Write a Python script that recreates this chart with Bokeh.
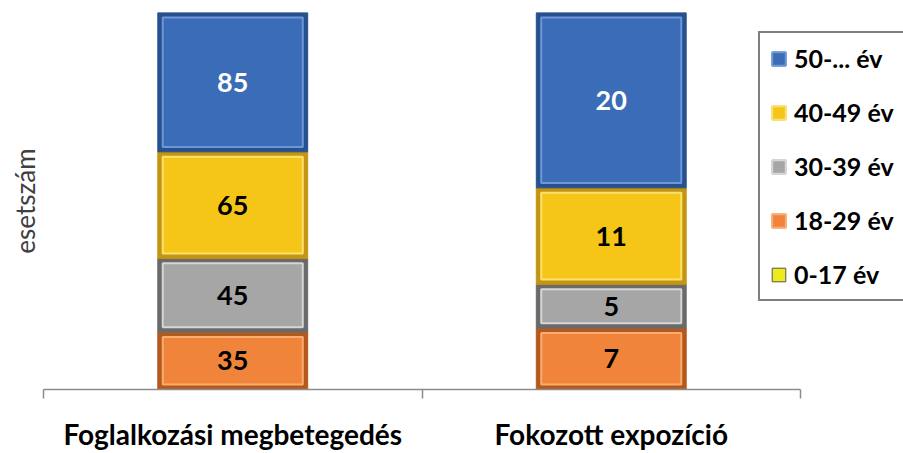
import numpy as np
from bokeh.plotting import figure
from bokeh.models import (ColumnDataSource, Legend, LegendItem, FixedTicker, Range1d)
from bokeh.core.properties import value
from bokeh.embed import file_html
from bokeh.resources import INLINE

# ---- data ----
categories = ["Foglalkozási megbetegedés", "Fokozott expozíció"]
age_groups = ["0-17 év", "18-29 év", "30-39 év", "40-49 év", "50-... év"]
v_0_17 = [0, 0]
v_18_29 = [35, 7]
v_30_39 = [45, 5]
v_40_49 = [65, 11]
v_50_plus = [85, 20]
y_label = "esetszám"

series = [v_0_17, v_18_29, v_30_39, v_40_49, v_50_plus]
main_colors = ["#ecec1c", "#f0843a", "#a6a6a6", "#f5c518", "#3b6cb7"]
dark_colors = ["#555555", "#b4581c", "#6a6a6a", "#c39510", "#27508f"]
light_colors = ["#ecec1c", "#f9ad72", "#d6d6d6", "#fbe170", "#6e97d6"]
label_colors = ["black", "black", "black", "black", "white"]

FONT = "Lato"

vals = np.array(series, dtype=float)          # groups x categories
totals = vals.sum(axis=0)
frac = vals / totals
tops = np.cumsum(frac, axis=0)
bottoms = tops - frac
xpos = np.arange(len(categories)) + 0.5
n = len(categories)

# frame spans the whole width to the right so the legend is not clipped;
# the axis itself is bounded to the category area
x_end = n * 860 / 757

p = figure(width=903, height=453, output_backend="svg", toolbar_location=None,
           x_range=Range1d(0, x_end), y_range=Range1d(0, 1),
           min_border_left=43, min_border_right=0, min_border_top=12,
           min_border_bottom=52)
p.outline_line_color = None
p.xgrid.grid_line_color = None
p.ygrid.grid_line_color = None
p.background_fill_color = "white"
p.border_fill_color = "white"

bar_w = 0.396
inset_x = 0.026
inset_y = 0.013

renderers = {}
for i, g in enumerate(age_groups):
    src = ColumnDataSource(dict(x=xpos, top=tops[i], bottom=bottoms[i]))
    outer = p.vbar(x="x", top="top", bottom="bottom", width=bar_w, source=src,
                   fill_color=dark_colors[i], line_color=dark_colors[i], line_width=1)
    rs = [outer]
    if vals[i].sum() > 0:
        src_in = ColumnDataSource(dict(x=xpos, top=tops[i] - inset_y,
                                       bottom=bottoms[i] + inset_y))
        inner = p.vbar(x="x", top="top", bottom="bottom", width=bar_w - inset_x,
                       source=src_in, fill_color=main_colors[i],
                       line_color=light_colors[i], line_width=2)
        rs.append(inner)
        lsrc = ColumnDataSource(dict(x=xpos, y=(tops[i] + bottoms[i]) / 2,
                                     t=[str(int(v)) for v in vals[i]]))
        p.text(x="x", y="y", text="t", source=lsrc, text_align="center",
               text_baseline="middle", text_font=value(FONT), text_font_style="bold",
               text_font_size="27px", text_color=label_colors[i])
    else:
        outer.glyph.fill_color = main_colors[i]
    renderers[g] = rs

# x axis: category labels centred, tick marks at category boundaries
p.xaxis.bounds = (0, n)
p.xaxis.ticker = FixedTicker(ticks=list(xpos), minor_ticks=list(range(n + 1)))
p.xaxis.major_label_overrides = {float(x): c for x, c in zip(xpos, categories)}
p.xaxis.major_tick_out = 0
p.xaxis.major_tick_in = 0
p.xaxis.minor_tick_out = 9
p.xaxis.minor_tick_in = 0
p.xaxis.minor_tick_line_color = "#8c8c8c"
p.xaxis.axis_line_color = "#8c8c8c"
p.xaxis.axis_line_width = 1.5
p.xaxis.minor_tick_line_width = 1.5
p.xaxis.major_label_text_font = FONT
p.xaxis.major_label_text_font_style = "bold"
p.xaxis.major_label_text_font_size = "28px"
p.xaxis.major_label_text_color = "black"
p.xaxis.major_label_standoff = 18

# y axis: only the title
p.yaxis.ticker = FixedTicker(ticks=[])
p.yaxis.axis_line_color = None
p.yaxis.major_tick_line_color = None
p.yaxis.minor_tick_line_color = None
p.yaxis.axis_label = y_label
p.yaxis.axis_label_text_font = FONT
p.yaxis.axis_label_text_font_style = "normal"
p.yaxis.axis_label_text_font_size = "26px"
p.yaxis.axis_label_text_color = "#404040"
p.yaxis.axis_label_standoff = 3

items = [LegendItem(label=g, renderers=renderers[g]) for g in reversed(age_groups)]
legend = Legend(items=items, location=(715, 88), orientation="vertical",
                border_line_color="black", border_line_width=2,
                background_fill_color="white", background_fill_alpha=1,
                label_text_font=FONT, label_text_font_style="bold",
                label_text_font_size="25px", label_text_color="black",
                glyph_width=17, glyph_height=17, label_standoff=7,
                spacing=24, padding=10, margin=0)
p.add_layout(legend, "center")

open("out.html", "w").write(file_html(p, INLINE))
